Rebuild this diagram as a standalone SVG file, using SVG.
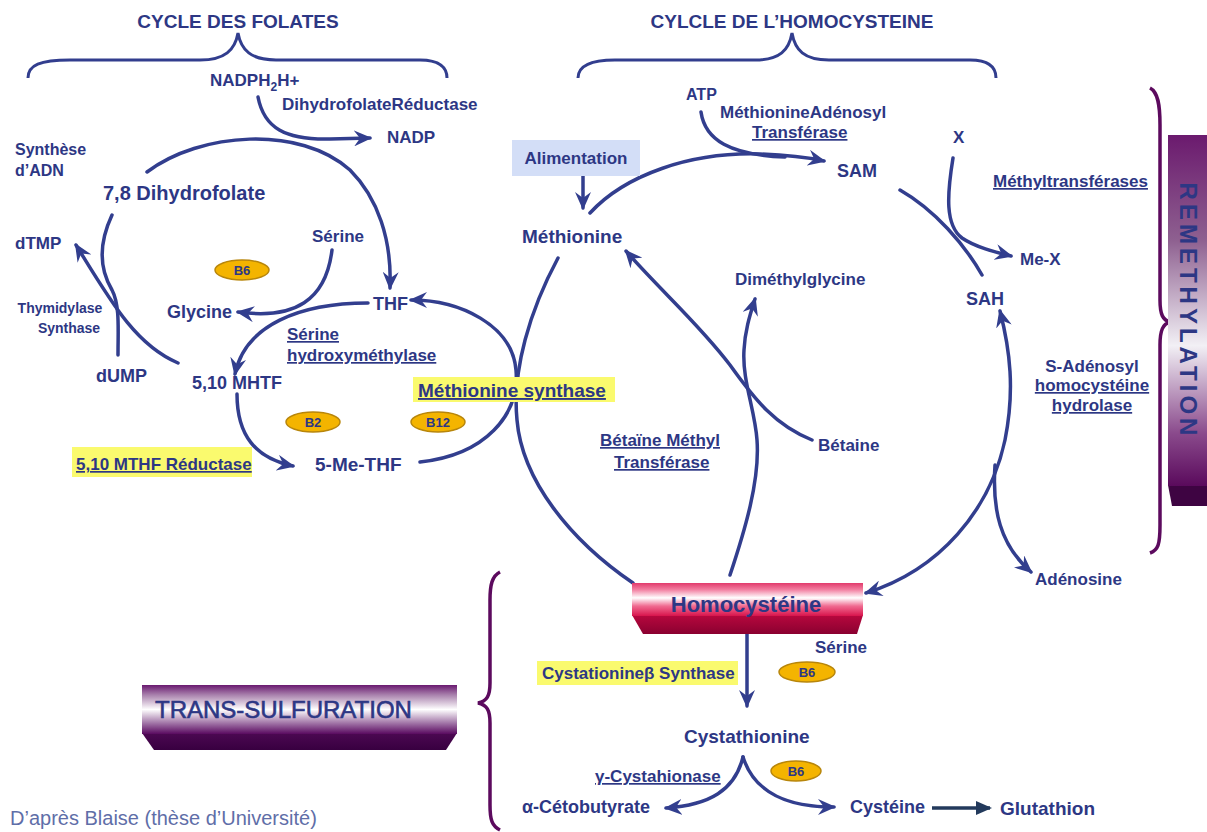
<svg xmlns="http://www.w3.org/2000/svg" width="1207" height="832" viewBox="0 0 1207 832">
<style>
.t{font-family:"Liberation Sans",Arial,sans-serif;font-weight:bold;fill:#2d3784;font-size:18px}
.s17{font-size:17px}.s16{font-size:16px}.s14{font-size:14px}.s19{font-size:19px}.s20{font-size:20px}
.u{text-decoration:underline}
.c{stroke:#323e8e;stroke-width:3.5;fill:none;stroke-linecap:round}
.br{stroke:#323e8e;stroke-width:3;fill:none}
.bp{stroke:#5c0a5e;stroke-width:3.5;fill:none}
.hl{fill:#fafa6e}
.vit{fill:#f4b400;stroke:#b8860b;stroke-width:1.5}
.vt{font-family:"Liberation Sans",Arial,sans-serif;font-weight:bold;fill:#2d3784;font-size:13px;text-anchor:middle}
</style>
<defs>
<marker id="ah" viewBox="0 0 18 16" refX="16" refY="8" markerWidth="18" markerHeight="16" orient="auto-start-reverse" markerUnits="userSpaceOnUse"><path d="M0,0 L18,8 L0,16 L6,8 z" fill="#323e8e"/></marker>
<marker id="ah2" viewBox="0 0 16 14" refX="14" refY="7" markerWidth="16" markerHeight="14" orient="auto" markerUnits="userSpaceOnUse"><path d="M0,0 L16,7 L0,14 z" fill="#233a5c"/></marker>
<linearGradient id="gHcy" x1="0" y1="0" x2="0" y2="1">
<stop offset="0" stop-color="#e23a6c"/><stop offset="0.2" stop-color="#f27ea0"/><stop offset="0.45" stop-color="#ffffff"/><stop offset="0.7" stop-color="#f06a90"/><stop offset="1" stop-color="#d8144c"/>
</linearGradient>
<linearGradient id="gHcyB" x1="0" y1="0" x2="0" y2="1"><stop offset="0" stop-color="#b8083e"/><stop offset="1" stop-color="#8a0030"/></linearGradient>
<linearGradient id="gTS" x1="0" y1="0" x2="0" y2="1">
<stop offset="0" stop-color="#6a1a70"/><stop offset="0.2" stop-color="#a880ac"/><stop offset="0.5" stop-color="#ffffff"/><stop offset="0.8" stop-color="#9a6aa0"/><stop offset="1" stop-color="#5a0a60"/>
</linearGradient>
<linearGradient id="gTSB" x1="0" y1="0" x2="0" y2="1"><stop offset="0" stop-color="#4c0852"/><stop offset="1" stop-color="#380040"/></linearGradient>
<linearGradient id="gRM" x1="0" y1="0" x2="0" y2="1">
<stop offset="0" stop-color="#6b1a6e"/><stop offset="0.3" stop-color="#8e6090"/><stop offset="0.6" stop-color="#f2f0f5"/><stop offset="0.85" stop-color="#8a4a8c"/><stop offset="1" stop-color="#5a0a5c"/>
</linearGradient>
</defs>

<g id="connectors">
<path class="c" d="M258,97 C264,128 285,140 330,139 L370,138" marker-end="url(#ah)"/>
<path class="c" d="M147,172 C200,132 300,125 350,170 C378,198 392,240 390,288" marker-end="url(#ah)"/>
<path class="c" d="M112,215 C98,245 100,270 112,290 C120,305 118,330 118,355"/>
<path class="c" d="M178,363 C135,345 110,300 76,245" marker-end="url(#ah)"/>
<path class="c" d="M332,250 C326,300 295,320 238,312" marker-end="url(#ah)"/>
<path class="c" d="M368,303 C300,303 245,325 235,374" marker-end="url(#ah)"/>
<path class="c" d="M237,394 C237,435 255,458 293,466" marker-end="url(#ah)"/>
<path class="c" d="M420,462 C485,455 520,415 516,370 C512,325 460,300 411,300" marker-end="url(#ah)"/>
<path class="c" d="M583,176 L583,208" marker-end="url(#ah)"/>
<path class="c" d="M590,213 C625,175 690,152 760,154 C790,155 810,158 824,161" marker-end="url(#ah)"/>
<path class="c" d="M701,112 C705,140 730,155 785,157"/>
<path class="c" d="M900,190 C935,210 965,245 982,275"/>
<path class="c" d="M953,158 C947,195 945,225 962,238 C975,247 995,252 1011,256" marker-end="url(#ah)"/>
<path class="c" d="M1000,311 C1010,350 1015,390 1005,440 C990,510 940,570 866,593" marker-start="url(#ah)" marker-end="url(#ah)"/>
<path class="c" d="M995,465 C992,510 1000,545 1031,572" marker-end="url(#ah)"/>
<path class="c" d="M812,440 C775,425 755,400 730,365 C700,325 660,290 626,251" marker-end="url(#ah)"/>
<path class="c" d="M730,575 C745,530 760,480 757,440 C755,410 742,380 744,350 C745,330 750,315 755,299" marker-end="url(#ah)"/>
<path class="c" d="M558,258 C530,310 512,370 517,420 C522,480 570,540 633,583"/>
<path class="c" d="M747,634 L747,706" marker-end="url(#ah)"/>
<path class="c" d="M743,757 C735,790 710,805 666,808" marker-end="url(#ah)"/>
<path class="c" d="M743,757 C755,795 790,807 834,807" marker-end="url(#ah)"/>
<path d="M932,808 L990,808" stroke="#233a5c" stroke-width="3.5" fill="none" marker-end="url(#ah2)"/>
</g>

<g id="braces">
<path class="br" d="M28,78 C28,65 40,60 70,60 L200,60 C225,60 235,50 238,33 C241,50 251,60 276,60 L420,60 C440,60 447,68 447,78"/>
<path class="br" d="M578,78 C578,66 590,60 615,60 L755,60 C780,60 789,50 792,33 C795,50 804,60 829,60 L970,60 C990,60 996,68 996,78"/>
<path class="bp" d="M1150,88 C1158,92 1160,105 1160,125 L1160,300 C1160,315 1163,320 1170,322 C1163,324 1160,330 1160,345 L1160,525 C1160,545 1158,550 1150,553"/>
<path class="bp" d="M500,572 C492,576 490,585 490,600 L490,683 C490,696 487,701 478,703 C487,705 490,710 490,723 L490,805 C490,820 492,826 500,830"/>
</g>

<g id="titles">
<text class="t s19" x="238" y="28" text-anchor="middle">CYCLE DES FOLATES</text>
<text class="t s19" x="792" y="28" text-anchor="middle">CYLCLE DE L’HOMOCYSTEINE</text>
</g>

<g id="folates">
<g id="n-nadph"><text class="t s17" x="210" y="86">NADPH<tspan style="font-size:12px" dy="5">2</tspan><tspan dy="-5">H+</tspan></text></g>
<g id="n-dhfr"><text class="t s17" x="282" y="110">DihydrofolateRéductase</text></g>
<g id="n-nadp"><text class="t s17" x="387" y="143">NADP</text></g>
<g id="n-adn"><text class="t s16" x="15" y="155">Synthèse</text><text class="t s16" x="15" y="176">d’ADN</text></g>
<g id="n-dhf"><text class="t s20" x="103" y="200">7,8 Dihydrofolate</text></g>
<g id="n-dtmp"><text class="t s17" x="15" y="249">dTMP</text></g>
<g id="n-serine1"><text class="t s17" x="312" y="242">Sérine</text></g>
<g id="n-b6a"><ellipse class="vit" cx="242" cy="270" rx="27" ry="10"/><text class="vt" x="242" y="275">B6</text></g>
<g id="n-glycine"><text class="t" x="167" y="318">Glycine</text></g>
<g id="n-thf"><text class="t" x="373" y="310">THF</text></g>
<g id="n-ts"><text class="t s14" x="60" y="313" text-anchor="middle">Thymidylase</text><text class="t s14" x="69" y="333" text-anchor="middle">Synthase</text></g>
<g id="n-shmt"><text class="t s17 u" x="287" y="340">Sérine</text><text class="t s17 u" x="287" y="361">hydroxyméthylase</text></g>
<g id="n-dump"><text class="t" x="96" y="382">dUMP</text></g>
<g id="n-mthf"><text class="t" x="192" y="389">5,10 MHTF</text></g>
<g id="n-ms"><rect class="hl" x="413" y="377" width="202" height="25"/><text class="t s19 u" x="418" y="397">Méthionine synthase</text></g>
<g id="n-b2"><ellipse class="vit" cx="313" cy="422" rx="27" ry="10"/><text class="vt" x="313" y="427">B2</text></g>
<g id="n-b12"><ellipse class="vit" cx="438" cy="422" rx="27" ry="10"/><text class="vt" x="438" y="427">B12</text></g>
<g id="n-mthfr"><rect class="hl" x="72" y="447" width="180" height="30"/><text class="t s17 u" x="76" y="470">5,10 MTHF Réductase</text></g>
<g id="n-methf"><text class="t s19" x="315" y="471">5-Me-THF</text></g>
</g>

<g id="homocysteine-cycle">
<g id="n-atp"><text class="t s16" x="686" y="100">ATP</text></g>
<g id="n-mat"><text class="t s17" x="720" y="118">MéthionineAdénosyl</text><text class="t s17 u" x="752" y="138">Transférase</text></g>
<g id="n-alim"><rect x="512" y="140" width="128" height="36" fill="#d3def7"/><text class="t s17" x="576" y="164" text-anchor="middle">Alimentation</text></g>
<g id="n-sam"><text class="t" x="837" y="177">SAM</text></g>
<g id="n-x"><text class="t s17" x="953" y="143">X</text></g>
<g id="n-mt"><text class="t s17 u" x="993" y="187">Méthyltransférases</text></g>
<g id="n-met"><text class="t s19" x="522" y="243">Méthionine</text></g>
<g id="n-mex"><text class="t s17" x="1020" y="265">Me-X</text></g>
<g id="n-dmg"><text class="t s17" x="735" y="285">Diméthylglycine</text></g>
<g id="n-sah"><text class="t" x="966" y="305">SAH</text></g>
<g id="n-sahh"><text class="t s17" x="1092" y="372" text-anchor="middle">S-Adénosyl</text><text class="t s17 u" x="1092" y="391" text-anchor="middle">homocystéine</text><text class="t s17 u" x="1092" y="411" text-anchor="middle">hydrolase</text></g>
<g id="n-betaine"><text class="t s17" x="818" y="451">Bétaine</text></g>
<g id="n-bhmt"><text class="t s17 u" x="600" y="446">Bétaïne Méthyl</text><text class="t s17 u" x="614" y="468">Transférase</text></g>
<g id="n-adenosine"><text class="t s17" x="1035" y="585">Adénosine</text></g>
</g>

<g id="n-homocysteine">
<path d="M632,615 L863,615 L857,634 L643,634 z" fill="url(#gHcyB)"/>
<rect x="632" y="583" width="231" height="33" fill="url(#gHcy)"/>
<text class="t" x="746" y="612" text-anchor="middle" style="font-size:22px">Homocystéine</text>
</g>

<g id="transsulfuration">
<g id="n-serine2"><text class="t s17" x="815" y="653">Sérine</text></g>
<g id="n-cbs"><rect class="hl" x="537" y="661" width="201" height="24"/><text class="t s17" x="542" y="679">Cystationineβ Synthase</text></g>
<g id="n-b6b"><ellipse class="vit" cx="807" cy="672" rx="28" ry="10"/><text class="vt" x="807" y="677">B6</text></g>
<g id="n-cysta"><text class="t s19" x="684" y="743">Cystathionine</text></g>
<g id="n-cgl"><text class="t s17 u" x="595" y="782">γ-Cystahionase</text></g>
<g id="n-b6c"><ellipse class="vit" cx="796" cy="771" rx="25" ry="10"/><text class="vt" x="796" y="776">B6</text></g>
<g id="n-akb"><text class="t" x="522" y="813">α-Cétobutyrate</text></g>
<g id="n-cys"><text class="t" x="850" y="813">Cystéine</text></g>
<g id="n-gsh"><text class="t s19" x="1000" y="815">Glutathion</text></g>
</g>

<g id="n-remethylation">
<path d="M1168,485 L1207,485 L1207,506 L1172,506 z" fill="#3e0442"/>
<rect x="1168" y="135" width="39" height="351" fill="url(#gRM)"/>
<text x="1188" y="311" transform="rotate(90 1188 311)" text-anchor="middle" dominant-baseline="central" font-family="Liberation Sans,Arial,sans-serif" font-weight="bold" font-size="24" letter-spacing="4" fill="#2d3784">REMETHYLATION</text>
</g>

<g id="n-ts-label">
<path d="M142,733 L457,733 L446,750 L154,750 z" fill="url(#gTSB)"/>
<rect x="142" y="685" width="315" height="49" fill="url(#gTS)"/>
<text x="155" y="718" font-family="Liberation Sans,Arial,sans-serif" font-size="24" fill="#2d3784" stroke="#2d3784" stroke-width="0.6">TRANS-SULFURATION</text>
</g>

<text x="10" y="825" font-family="Liberation Sans,Arial,sans-serif" font-size="20" fill="#5f6ea8">D’après Blaise (thèse d’Université)</text>
</svg>
